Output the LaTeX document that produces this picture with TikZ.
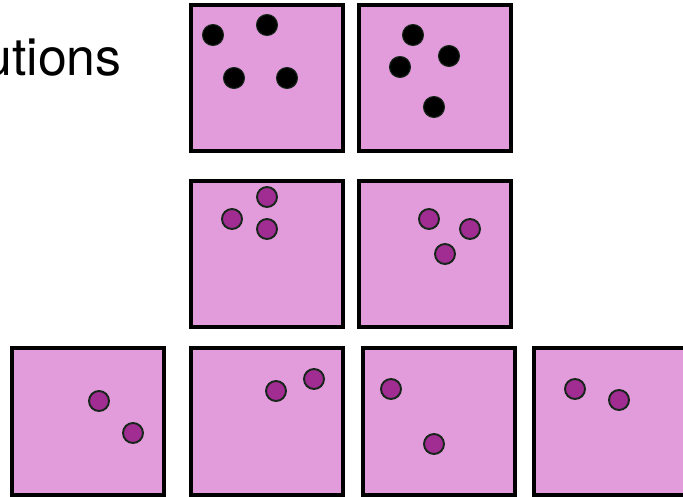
\documentclass[tikz,border=0pt]{standalone}
\usepackage{fontspec}
\setmainfont{TeX Gyre Heros}
\usepackage{tikz}
\definecolor{cellpink}{HTML}{E39CDB}
\definecolor{dotpurple}{HTML}{A22D92}
\definecolor{dotrim}{HTML}{16261A}
\tikzset{
  cell/.style={draw=black, line width=2pt, fill=cellpink},
  blackdot/.style={fill=black, draw=dotrim, line width=0.6pt},
  purpledot/.style={fill=dotpurple, draw=dotrim, line width=1.1pt}
}

\begin{document}
\begin{tikzpicture}[x=0.02cm,y=-0.02cm]
        \useasboundingbox (0,0) rectangle (683,497);
        \clip (0,0) rectangle (683,497);
        \node[anchor=base east, inner sep=0pt, font=\fontsize{29.5}{33}\selectfont] (title) at (122,75) {utions};
        % top row
        \begin{scope}[shift={(191,5)}]
        \draw[cell] (0,0) rectangle (152,146);
    \foreach \x/\y in {22/30,76/20,43/73,96/73}{
        \draw[blackdot] (\x,\y) circle (0.21cm);
    }
        \end{scope}
        \begin{scope}[shift={(359,5)}]
        \draw[cell] (0,0) rectangle (152,146);
    \foreach \x/\y in {54/30,90/51,41/62,75/102}{
        \draw[blackdot] (\x,\y) circle (0.21cm);
    }
        \end{scope}
        % middle row
        \begin{scope}[shift={(191,181)}]
        \draw[cell] (0,0) rectangle (152,146);
    \foreach \x/\y in {41/38,76/16,76/48}{
        \draw[purpledot] (\x,\y) circle (0.2cm);
    }
        \end{scope}
        \begin{scope}[shift={(359,181)}]
        \draw[cell] (0,0) rectangle (152,146);
    \foreach \x/\y in {70/38,111/48,86/73}{
        \draw[purpledot] (\x,\y) circle (0.2cm);
    }
        \end{scope}
        % bottom row
        \begin{scope}[shift={(12,348)}]
        \draw[cell] (0,0) rectangle (152,147);
    \foreach \x/\y in {87/53,121/85}{
        \draw[purpledot] (\x,\y) circle (0.2cm);
    }
        \end{scope}
        \begin{scope}[shift={(191,348)}]
        \draw[cell] (0,0) rectangle (152,147);
    \foreach \x/\y in {85/43,123/31}{
        \draw[purpledot] (\x,\y) circle (0.2cm);
    }
        \end{scope}
        \begin{scope}[shift={(363,348)}]
        \draw[cell] (0,0) rectangle (152,147);
    \foreach \x/\y in {28/41,71/96}{
        \draw[purpledot] (\x,\y) circle (0.2cm);
    }
        \end{scope}
        \begin{scope}[shift={(534,348)}]
        \draw[cell] (0,0) rectangle (152,147);
    \foreach \x/\y in {41/41,85/52}{
        \draw[purpledot] (\x,\y) circle (0.2cm);
    }
        \end{scope}
\end{tikzpicture}
\end{document}
